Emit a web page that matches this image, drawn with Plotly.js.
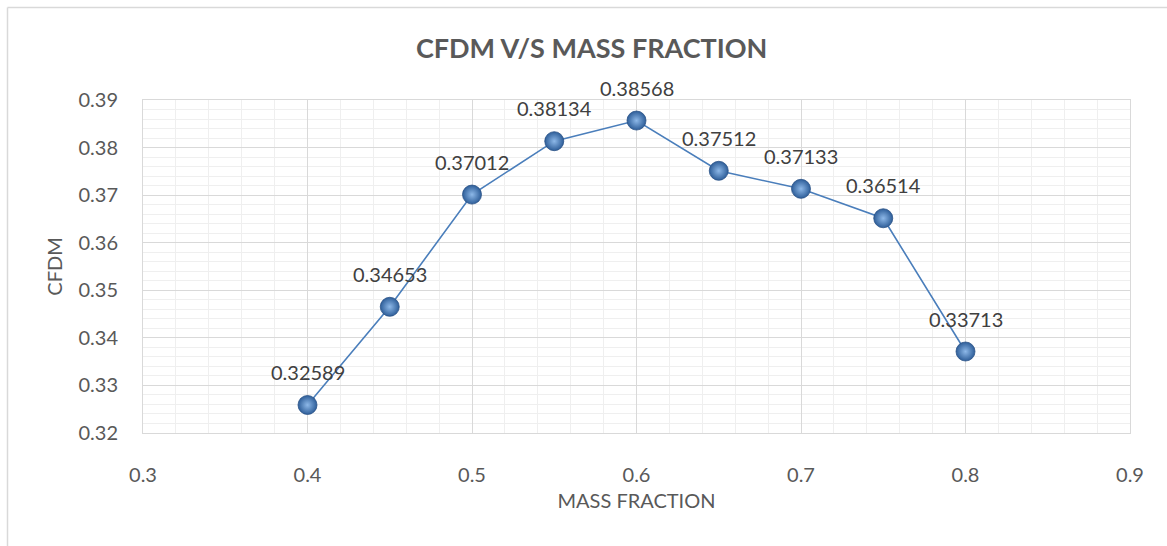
<!DOCTYPE html>
<html>
<head>
<meta charset="utf-8">
<script src="https://cdn.plot.ly/plotly-3.0.1.min.js"></script>
<style>html,body{margin:0;padding:0;background:#fff;}#chart{width:1167px;height:546px;}</style>
</head>
<body>
<div id="chart"></div>
<script>
const massFraction = [0.4, 0.45, 0.5, 0.55, 0.6, 0.65, 0.7, 0.75, 0.8];
const cfdm = [0.32589, 0.34653, 0.37012, 0.38134, 0.38568, 0.37512, 0.37133, 0.36514, 0.33713];
const pointLabels = ["0.32589", "0.34653", "0.37012", "0.38134", "0.38568", "0.37512", "0.37133", "0.36514", "0.33713"];

const W = 1167, H = 546, ml = 143, mr = 37, mt = 100, mb = 113;
const pw = W - ml - mr, ph = H - mt - mb;
const px = p => (p - ml) / pw;
const py = p => 1 + (mt - p) / ph;

const trace = {
  x: massFraction, y: cfdm, type: 'scatter', mode: 'lines+markers',
  line: {color: '#4A7EBB', width: 1.6},
  marker: {size: 19, color: '#2E5E99', gradient: {type: 'radial', color: '#8DB8E8'},
           line: {color: '#2A5286', width: 0.8}},
  hoverinfo: 'x+y'
};

const annotations = massFraction.map((x, i) => ({
  x: x, y: cfdm[i], xref: 'x', yref: 'y', text: pointLabels[i], showarrow: false,
  yshift: 33, font: {family: 'Lato, sans-serif', size: 20, color: '#404040'}
}));

const layout = {
  width: W, height: H,
  margin: {l: ml, r: mr, t: mt, b: mb},
  paper_bgcolor: '#ffffff', plot_bgcolor: '#ffffff',
  showlegend: false,
  title: {text: '<b>CFDM V/S MASS FRACTION</b>', x: 0.507, xanchor: 'center', y: 1 - 49 / H, yanchor: 'middle',
          font: {family: 'Lato, sans-serif', size: 27, color: '#595959'}},
  xaxis: {
    range: [0.3, 0.9], dtick: 0.1, tick0: 0.3, tickformat: '.1f',
    showgrid: true, gridcolor: '#d9d9d9', gridwidth: 1,
    minor: {dtick: 0.02, showgrid: true, gridcolor: '#efefef', gridwidth: 1},
    showline: true, linecolor: '#d9d9d9', mirror: true, zeroline: false,
    ticks: '', ticklabelstandoff: 24,
    tickfont: {family: 'Lato, sans-serif', size: 20, color: '#595959'},
    title: {text: 'MASS FRACTION', standoff: 8, font: {family: 'Lato, sans-serif', size: 20, color: '#595959'}}
  },
  yaxis: {
    range: [0.32, 0.39], dtick: 0.01, tick0: 0.32, tickformat: '.2f',
    showgrid: true, gridcolor: '#d9d9d9', gridwidth: 1,
    minor: {dtick: 0.002, showgrid: true, gridcolor: '#efefef', gridwidth: 1},
    showline: true, linecolor: '#d9d9d9', mirror: true, zeroline: false,
    ticks: '', ticklabelstandoff: 20,
    tickfont: {family: 'Lato, sans-serif', size: 20, color: '#595959'},
    title: {text: 'CFDM', standoff: 10, font: {family: 'Lato, sans-serif', size: 20, color: '#595959'}}
  },
  annotations: annotations,
  shapes: [
    {type: 'line', xref: 'paper', yref: 'paper', x0: px(7.5), x1: px(1167), y0: py(7.5), y1: py(7.5), line: {color: '#d9d9d9', width: 1.5}},
    {type: 'line', xref: 'paper', yref: 'paper', x0: px(7.5), x1: px(7.5), y0: py(7.5), y1: py(546), line: {color: '#d9d9d9', width: 1.5}}
  ]
};

Plotly.newPlot('chart', [trace], layout, {displayModeBar: false, staticPlot: true});
</script>
</body>
</html>
